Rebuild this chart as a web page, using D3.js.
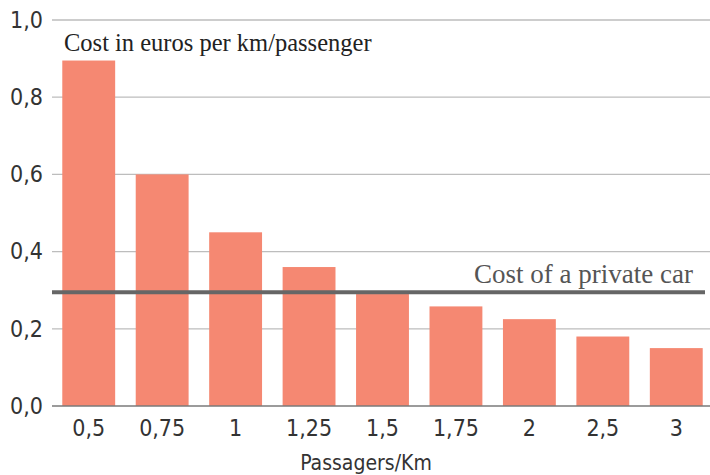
<!DOCTYPE html>
<html>
<head>
<meta charset="utf-8">
<script src="https://cdn.jsdelivr.net/npm/d3@7"></script>
<style>
  body { margin: 0; background: #fff; }
  svg { display: block; }
</style>
</head>
<body>
<svg width="710" height="475"></svg>
<script>
// Chart data
const categories = ["0,5", "0,75", "1", "1,25", "1,5", "1,75", "2", "2,5", "3"];
const costs = [0.895, 0.6, 0.45, 0.36, 0.29, 0.258, 0.225, 0.18, 0.15];
const yTicks = [0, 0.2, 0.4, 0.6, 0.8, 1.0];
const carCost = 0.295;

const svg = d3.select("svg"),
    width = +svg.attr("width"),
    height = +svg.attr("height");

const margin = { top: 20, right: 0, bottom: 69, left: 52 };
const plotRight = 713;

const x = d3.scaleBand()
    .domain(categories)
    .range([margin.left, plotRight])
    .paddingInner(0.28)
    .paddingOuter(0.14);

const y = d3.scaleLinear()
    .domain([0, 1])
    .range([height - margin.bottom, margin.top]);

const condensed = "'Liberation Sans Narrow', 'Arial Narrow', 'DejaVu Sans Condensed', sans-serif";
const serif = "'Liberation Serif', 'DejaVu Serif', serif";

// Horizontal grid lines
svg.append("g")
    .selectAll("line")
    .data(yTicks.filter(d => d > 0))
    .join("line")
    .attr("x1", margin.left)
    .attr("x2", width)
    .attr("y1", d => y(d))
    .attr("y2", d => y(d))
    .attr("stroke", "#bdbdbd")
    .attr("stroke-width", 1.3);

// Bars
svg.append("g")
    .selectAll("rect")
    .data(costs)
    .join("rect")
    .attr("x", (d, i) => x(categories[i]))
    .attr("width", x.bandwidth())
    .attr("y", d => y(d))
    .attr("height", d => y(0) - y(d))
    .attr("fill", "#f58872");

// Baseline
svg.append("line")
    .attr("x1", margin.left)
    .attr("x2", width)
    .attr("y1", y(0))
    .attr("y2", y(0))
    .attr("stroke", "#7a7a7a")
    .attr("stroke-width", 1.5);

// Y axis labels
const yAxis = d3.axisLeft(y)
    .tickValues(yTicks)
    .tickSize(0)
    .tickPadding(9)
    .tickFormat(d => d3.format(".1f")(d).replace(".", ","));

svg.append("g")
    .attr("transform", `translate(${margin.left},0)`)
    .call(yAxis)
    .call(g => g.select(".domain").remove())
    .selectAll("text")
    .attr("font-family", condensed)
    .attr("font-size", 23)
    .attr("fill", "#333");

// X axis labels
const xAxis = d3.axisBottom(x).tickSize(0).tickPadding(14);
svg.append("g")
    .attr("transform", `translate(0,${y(0)})`)
    .call(xAxis)
    .call(g => g.select(".domain").remove())
    .selectAll("text")
    .attr("font-family", condensed)
    .attr("font-size", 23)
    .attr("fill", "#333");

// Axis title
svg.append("text")
    .attr("x", 366)
    .attr("y", 470)
    .attr("text-anchor", "middle")
    .attr("font-family", condensed)
    .attr("font-size", 21)
    .attr("fill", "#333")
    .text("Passagers/Km");

// Private car reference line
svg.append("line")
    .attr("x1", margin.left)
    .attr("x2", 705)
    .attr("y1", y(carCost))
    .attr("y2", y(carCost))
    .attr("stroke", "#666")
    .attr("stroke-width", 4);

svg.append("text")
    .attr("x", 693)
    .attr("y", y(carCost) - 9)
    .attr("text-anchor", "end")
    .attr("font-family", serif)
    .attr("font-size", 27)
    .attr("fill", "#555")
    .text("Cost of a private car");

// Chart title
svg.append("text")
    .attr("x", 64)
    .attr("y", 51)
    .attr("font-family", serif)
    .attr("font-size", 24.5)
    .attr("fill", "#222")
    .text("Cost in euros per km/passenger");
</script>
</body>
</html>
